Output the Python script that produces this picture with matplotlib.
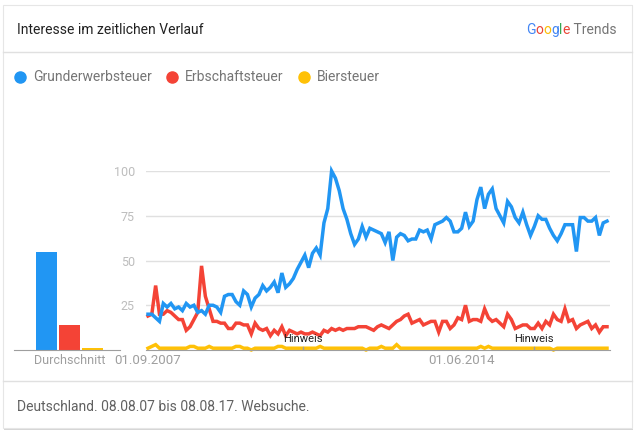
import numpy as np
import matplotlib
matplotlib.use("Agg")
import matplotlib.pyplot as plt
from matplotlib.patches import Rectangle
from matplotlib.lines import Line2D

plt.rcParams['font.family'] = ['Roboto', 'DejaVu Sans']

# monthly values, Aug 2007 .. Aug 2017
grunderwerb = [20, 20, 18, 16, 26, 24, 26, 23, 24, 22, 26, 24, 25, 21, 22, 20,
               25, 25, 24, 21, 30, 31, 31, 27, 25, 33, 31, 24, 29, 31,
               36, 33, 35, 38, 32, 43, 35, 37, 40, 45, 49, 53, 46, 54, 57, 53,
               71, 79, 100, 96, 89, 79, 73, 65, 59, 62, 69, 63,
               68, 67, 66, 65, 60, 66, 50, 63, 65, 64, 61, 62, 62, 67, 66, 67,
               62, 70, 71, 72, 74, 72, 66, 66, 68, 77, 69, 72, 84, 91,
               79, 87, 90, 79, 75, 71, 83, 80, 74, 71, 77, 70, 64, 69, 75, 73,
               73, 68, 64, 61, 65, 70, 70, 70, 55, 74, 74, 72, 72, 74, 64, 71, 72]
erbschaft = [19, 20, 36, 20, 20, 22, 21, 19, 17, 17, 11, 13, 17, 21, 47, 30,
             23, 16, 16, 15, 15, 12, 12, 15, 15, 14, 14, 9, 15, 12,
             11, 12, 8, 11, 9, 13, 8, 11, 10, 9, 10, 9, 9, 10, 9, 8,
             11, 10, 12, 11, 12, 11, 12, 12, 12, 13, 13, 13,
             12, 11, 13, 14, 13, 12, 14, 16, 17, 19, 20, 15, 16, 17, 14, 15,
             16, 16, 10, 16, 16, 12, 14, 18, 17, 25, 16, 17, 17, 16,
             23, 18, 16, 17, 15, 13, 20, 17, 12, 13, 14, 14, 12, 12, 15, 12,
             16, 14, 20, 17, 16, 23, 16, 17, 12, 14, 15, 16, 12, 14, 10, 13, 13]
bier = [1, 2, 3, 1, 1, 1, 1, 1, 1, 1,
        1, 2, 2, 1, 1, 1, 2, 1, 1, 1,
        1, 1, 1, 2, 2, 1, 1, 0, 1, 1,
        1, 1, 1, 1, 2, 2, 1, 1, 1, 1,
        1, 1, 1, 1, 1, 2, 1, 1, 1, 1,
        1, 1, 1, 1, 1, 1, 1, 0, 1, 1,
        1, 2, 1, 1, 1, 3, 1, 1, 1, 1,
        1, 1, 1, 1, 1, 1, 1, 1, 1, 1,
        1, 1, 1, 1, 1, 1, 1, 2, 1, 2,
        1, 1, 1, 1, 1, 1, 1, 1, 1, 1,
        1, 1, 1, 1, 1, 1, 0, 1, 1, 1,
        1, 1, 1, 1, 1, 1, 1, 1, 1, 1,
        1]

names = ["Grunderwerbsteuer", "Erbschaftsteuer", "Biersteuer"]
colors = ["#2196F3", "#F44336", "#FFC107"]
averages = [55, 14, 1]

tick_pos = [0, 82]
tick_labels = ["01.09.2007", "01.06.2014"]
note_pos = [40.5, 101]

W, H = 635, 433
fig = plt.figure(figsize=(W / 100, H / 100), dpi=100)
fig.patch.set_facecolor("white")

def fx(px):
    return px / W

def fy(py):
    return 1 - py / H

# card, shadow and separators
fig.patches.append(Rectangle((fx(4), fy(430)), fx(629), 425 / H, transform=fig.transFigure,
                             facecolor="#d6d6d6", edgecolor="none", zorder=-2))
fig.patches.append(Rectangle((fx(3), fy(428)), fx(629), 423 / H, transform=fig.transFigure,
                             facecolor="white", edgecolor="#e6e6e6", lw=0.8, zorder=-1))
for yy in [52, 381]:
    fig.lines.append(Line2D([fx(3), fx(632)], [fy(yy), fy(yy)], transform=fig.transFigure,
                            color="#e0e0e0", lw=1))

fig.text(fx(17), fy(30), "Interesse im zeitlichen Verlauf", fontsize=10, color="#212121",
         va="center", ha="left")
fig.text(fx(17), fy(407), "Deutschland. 08.08.07 bis 08.08.17. Websuche.", fontsize=10,
         color="#616161", va="center", ha="left")

# Google Trends logo
logo = [("G", "#4285F4"), ("o", "#EA4335"), ("o", "#FBBC05"), ("g", "#4285F4"),
        ("l", "#34A853"), ("e", "#EA4335"), (" Trends", "#757575")]
renderer = fig.canvas.get_renderer()
x = fx(526)
for ch, c in logo:
    t = fig.text(x, fy(30), ch, fontsize=10, color=c, va="center", ha="left")
    bb = t.get_window_extent(renderer)
    x += bb.width / W

# legend
leg_x = [20, 172, 304]
for nm, c, lx in zip(names, colors, leg_x):
    fig.lines.append(Line2D([fx(lx)], [fy(77)], transform=fig.transFigure, marker="o",
                            markersize=8, color=c, lw=0))
    fig.text(fx(lx + 13), fy(77), nm, fontsize=10, color="#757575", va="center", ha="left")

# average bars
axb = fig.add_axes([fx(14), fy(350), fx(106), 179 / H])
axb.bar(range(3), averages, width=0.93, color=colors)
axb.set_xlim(-1.41, 3.19)
axb.set_ylim(0, 100)
for s in ["top", "right", "left"]:
    axb.spines[s].set_visible(False)
axb.spines["bottom"].set_color("#9e9e9e")
axb.set_yticks([])
axb.set_xticks([1])
axb.set_xticklabels(["Durchschnitt"], fontsize=9, color="#9e9e9e")
axb.tick_params(axis="x", length=0, pad=3)
axb.patch.set_alpha(0)

# line chart
ax = fig.add_axes([fx(146), fy(350), fx(464), 179 / H])
ax.patch.set_alpha(0)
xs = np.arange(len(grunderwerb))
for vals, c in zip([bier, erbschaft, grunderwerb], colors[::-1]):
    ax.plot(xs, vals, color=c, lw=2.5, solid_joinstyle="miter", clip_on=False)
ax.set_xlim(-0.52, 120.78)
ax.set_ylim(0, 100)
ax.set_yticks([25, 50, 75, 100])
ax.set_yticklabels(["25", "50", "75", "100"], fontsize=9, color="#bdbdbd")
ax.tick_params(axis="y", length=0, pad=8)
ax.grid(axis="y", color="#e0e0e0", lw=1)
ax.set_axisbelow(True)
for s in ["top", "right", "left"]:
    ax.spines[s].set_visible(False)
ax.spines["bottom"].set_color("#9e9e9e")
ax.set_xticks(tick_pos)
ax.set_xticklabels(tick_labels, fontsize=9.5, color="#9e9e9e")
ax.tick_params(axis="x", length=0, pad=3)
for p in note_pos:
    ax.plot([p, p], [0, 1.8], color="#9e9e9e", lw=1)
    ax.text(p, 6, "Hinweis", fontsize=8, color="#212121", ha="center", va="center")

fig.savefig("out.png", dpi=100, facecolor="white")
